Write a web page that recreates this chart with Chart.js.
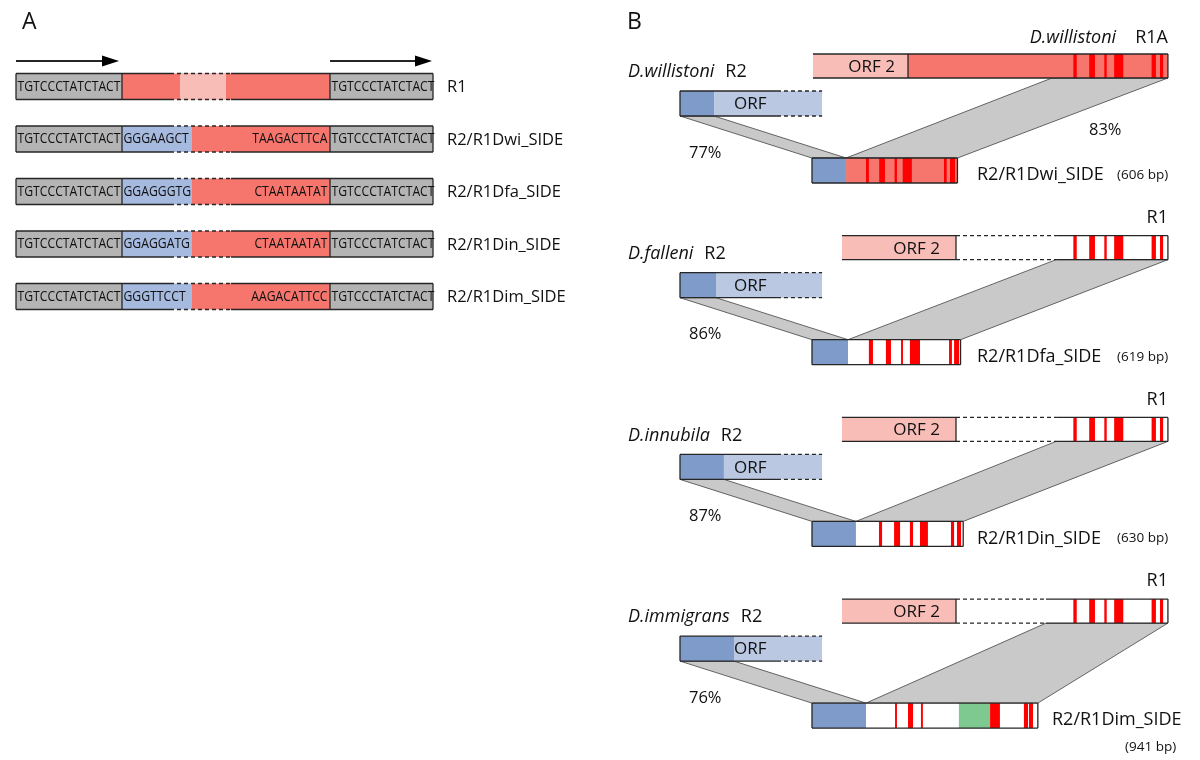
<!DOCTYPE html>
<html lang="en">
<head>
<meta charset="UTF-8">
<title>R2/R1 SIDE elements</title>
<style>
  html, body { margin: 0; padding: 0; background: #fff; }
  #wrap { width: 1200px; height: 760px; }
</style>
</head>
<body>
<div id="wrap"><canvas id="fig" width="1200" height="760"></canvas></div>

<script src="https://cdn.jsdelivr.net/npm/chart.js@4.4.4/dist/chart.umd.min.js"></script>
<script>
// ---------- panel A : junction sequences ----------
const rowNamesA = ['R1', 'R2/R1Dwi_SIDE', 'R2/R1Dfa_SIDE', 'R2/R1Din_SIDE', 'R2/R1Dim_SIDE'];
const flankSeq = 'TGTCCCTATCTACT';
const r2JunctionSeq = ['', 'GGGAAGCT', 'GGAGGGTG', 'GGAGGATG', 'GGGTTCCT'];
const r1JunctionSeq = ['', 'TAAGACTTCA', 'CTAATAATAT', 'CTAATAATAT', 'AAGACATTCC'];

// ---------- panel B : SIDE elements (bp) ----------
const species = ['D.willistoni', 'D.falleni', 'D.innubila', 'D.immigrans'];
const r1Names = ['R1A', 'R1', 'R1', 'R1'];
const sideNames = ['R2/R1Dwi_SIDE', 'R2/R1Dfa_SIDE', 'R2/R1Din_SIDE', 'R2/R1Dim_SIDE'];
const sideLengthBp = [606, 619, 630, 941];
const sideR2PartBp = [142, 150, 183, 225];      // R2 derived 5' part
const r2Identity = [77, 86, 87, 76];
const r1Identity = [83, null, null, null];
// red blocks inside each SIDE, bp from the 5' end
const sideStripes = [
  [[225, 237], [280, 304], [344, 354], [378, 416], [550, 561], [575, 596]],
  [[237, 254], [308, 329], [371, 379], [408, 450], [571, 583], [592, 613]],
  [[279, 292], [342, 367], [408, 421], [450, 483], [579, 592], [604, 621]],
  [[346, 354], [400, 421], [454, 462], [742, 783], [883, 900], [904, 921]]
];
const dimGreenBp = [612, 742];
// red blocks of R1, bp counted back from its 3' end
const r1Stripes = [[-394, -380], [-328, -304], [-265, -255], [-224, -186], [-68, -50], [-33, -20]];

// ---------- layout ----------
const pxPerBp = 0.24;
const sideLeftPx = 812;
const rowA = { first: 86.5, pitch: 52.5, h: 26 };
const colA = { l0: 16, l1: 122, r0: 330, r1: 433, gap0: 170, gap1: 231, orf0: 180, orf1: 226, junction: 192 };
const grpB = { first: 158, pitch: 181.7 };
const r1End = 1483;                       // bp, R1 3' end
const r1aStart = 4, r1aOrfEnd = 400;
const orf2Start = 125, orf2End = 600;
const r1HomolStart = [1000, 1017, 1017, 975];
const r2Orf = { start: -550, dash: -146, end: 42 };

const col = {
  grey: '#b4b4b4', salmon: '#f6756c', pink: '#f9bdb8', blue: '#7e9bc9', blueLight: '#bac8e2',
  blueA: '#a6b9de', red: '#ff0000', green: '#7ec98f', band: '#c9c9c9', line: '#262626'
};
const FONT = '"Open Sans", "Noto Sans", sans-serif';

const drawDiagram = {
  id: 'drawDiagram',
  afterDraw(chart) {
    const ctx = chart.ctx;
    const X = v => chart.scales.x.getPixelForValue(v);
    const B = v => chart.scales.bp.getPixelForValue(v);
    const Y = v => chart.scales.y.getPixelForValue(v);

    function box(x0, x1, y0, y1, fill) {
      ctx.fillStyle = fill;
      ctx.fillRect(x0, y0, x1 - x0, y1 - y0);
    }
    function seg(x0, y0, x1, y1, dashed, w) {
      ctx.save();
      ctx.strokeStyle = col.line;
      ctx.lineWidth = w || 1.3;
      ctx.setLineDash(dashed ? [4, 3] : []);
      ctx.beginPath();
      ctx.moveTo(x0, y0);
      ctx.lineTo(x1, y1);
      ctx.stroke();
      ctx.restore();
    }
    function frame(x0, x1, y0, y1) {
      seg(x0, y0, x1, y0); seg(x0, y1, x1, y1);
      seg(x0, y0, x0, y1); seg(x1, y0, x1, y1);
    }
    function text(str, x, y, size, opts) {
      opts = opts || {};
      ctx.save();
      ctx.fillStyle = '#111';
      ctx.font = (opts.italic ? 'italic ' : '') + size + 'px ' + FONT;
      ctx.textAlign = opts.align || 'left';
      ctx.textBaseline = 'middle';
      ctx.fillText(str, x, y);
      const w = ctx.measureText(str).width;
      ctx.restore();
      return w;
    }
    function narrowText(str, x, y, squeeze, align) {
      ctx.save();
      ctx.font = '14px ' + FONT;
      ctx.fillStyle = '#111';
      ctx.textBaseline = 'middle';
      ctx.textAlign = align;
      ctx.translate(x, y);
      ctx.scale(squeeze, 1);
      ctx.fillText(str, 0, 0);
      ctx.restore();
    }
    function arrow(x0, x1, y) {
      seg(x0, y, x1 - 10, y, false, 2);
      ctx.fillStyle = '#000';
      ctx.beginPath();
      ctx.moveTo(x1, y);
      ctx.lineTo(x1 - 17, y - 5.5);
      ctx.lineTo(x1 - 17, y + 5.5);
      ctx.closePath();
      ctx.fill();
    }
    function band(pts) {
      ctx.save();
      ctx.fillStyle = col.band;
      ctx.strokeStyle = '#555';
      ctx.lineWidth = 0.9;
      ctx.beginPath();
      pts.forEach((p, i) => i ? ctx.lineTo(p[0], p[1]) : ctx.moveTo(p[0], p[1]));
      ctx.closePath();
      ctx.fill();
      ctx.stroke();
      ctx.restore();
    }

    // ----- panel A -----
    text('A', X(22), Y(22), 23);
    arrow(X(colA.l0), X(colA.l1 - 3), Y(61));
    arrow(X(colA.r0), X(colA.r1 - 1), Y(61));

    ctx.save();
    ctx.font = '14px ' + FONT;
    const squeeze = (X(colA.l1) - X(colA.l0) - 3) / ctx.measureText(flankSeq).width;
    ctx.restore();

    rowNamesA.forEach((name, i) => {
      const yc = Y(rowA.first + i * rowA.pitch);
      const t = yc - rowA.h / 2, b = yc + rowA.h / 2;
      box(X(colA.l0), X(colA.l1), t, b, col.grey);
      box(X(colA.r0), X(colA.r1), t, b, col.grey);
      if (i === 0) {
        box(X(colA.l1), X(colA.r0), t, b, col.salmon);
        box(X(colA.orf0), X(colA.orf1), t, b, col.pink);
      } else {
        box(X(colA.l1), X(colA.junction), t, b, col.blueA);
        box(X(colA.junction), X(colA.r0), t, b, col.salmon);
      }
      frame(X(colA.l0), X(colA.l1), t, b);
      frame(X(colA.r0), X(colA.r1), t, b);
      [t, b].forEach(yy => {
        seg(X(colA.l1), yy, X(colA.gap0), yy);
        seg(X(colA.gap0), yy, X(colA.gap1), yy, true);
        seg(X(colA.gap1), yy, X(colA.r0), yy);
      });
      narrowText(flankSeq, X(colA.l0) + 1.5, yc + 0.5, squeeze, 'left');
      narrowText(flankSeq, X(colA.r0) + 1.5, yc + 0.5, squeeze, 'left');
      if (i > 0) {
        narrowText(r2JunctionSeq[i], X(colA.l1) + 1.5, yc + 0.5, squeeze, 'left');
        narrowText(r1JunctionSeq[i], X(colA.r0) - 2.5, yc + 0.5, squeeze, 'right');
      }
      text(name, X(447), yc + 1, 16.5);
    });

    // ----- panel B -----
    text('B', X(627), Y(22), 23);

    species.forEach((sp, g) => {
      const s = grpB.first + g * grpB.pitch;
      const sT = Y(s), sB = Y(s + 25);
      const rT = Y(s - 104), rB = Y(s - 80);
      const oT = Y(s - 67), oB = Y(s - 42);
      const sideEnd = B(sideLengthBp[g]);
      const blueEnd = B(sideR2PartBp[g]);
      const darkEnd = B(r2Orf.start + sideR2PartBp[g]);

      // homology bands
      band([[B(r2Orf.start), oB], [darkEnd, oB], [blueEnd, sT], [B(0), sT]]);
      band([[B(r1HomolStart[g]), rB], [B(r1End), rB], [sideEnd, sT], [blueEnd, sT]]);

      // R2 ORF
      box(B(r2Orf.start), darkEnd, oT, oB, col.blue);
      box(darkEnd, B(r2Orf.end), oT, oB, col.blueLight);
      [oT, oB].forEach(yy => {
        seg(B(r2Orf.start), yy, B(r2Orf.dash), yy);
        seg(B(r2Orf.dash), yy, B(r2Orf.end), yy, true);
      });
      seg(B(r2Orf.start), oT, B(r2Orf.start), oB);
      text('ORF', X(734), (oT + oB) / 2 + 1, 17);

      // R1 element
      if (g === 0) {
        box(B(r1aStart), B(r1aOrfEnd), rT, rB, col.pink);
        box(B(r1aOrfEnd), B(r1End), rT, rB, col.salmon);
        r1Stripes.forEach(st => box(B(r1End + st[0]), B(r1End + st[1]), rT, rB, col.red));
        seg(B(r1aStart), rT, B(r1End), rT);
        seg(B(r1aStart), rB, B(r1End), rB);
        seg(B(r1aOrfEnd), rT, B(r1aOrfEnd), rB);
        seg(B(r1End), rT, B(r1End), rB);
        text('ORF 2', B(r1aOrfEnd) - 13, (rT + rB) / 2 + 1, 17, { align: 'right' });
      } else {
        box(B(orf2Start), B(orf2End), rT, rB, col.pink);
        box(B(r1HomolStart[g]), B(r1End), rT, rB, '#fff');
        r1Stripes.forEach(st => box(B(r1End + st[0]), B(r1End + st[1]), rT, rB, col.red));
        [rT, rB].forEach(yy => {
          seg(B(orf2Start), yy, B(orf2End), yy);
          seg(B(orf2End), yy, B(r1HomolStart[g]), yy, true);
          seg(B(r1HomolStart[g]), yy, B(r1End), yy);
        });
        seg(B(orf2End), rT, B(orf2End), rB);
        seg(B(r1End), rT, B(r1End), rB);
        text('ORF 2', B(orf2End) - 16, (rT + rB) / 2 + 1, 17, { align: 'right' });
      }

      // SIDE element
      box(B(0), sideEnd, sT, sB, '#fff');
      if (g === 0) box(blueEnd, sideEnd, sT, sB, col.salmon);
      box(B(0), blueEnd, sT, sB, col.blue);
      if (g === 3) box(B(dimGreenBp[0]), B(dimGreenBp[1]), sT, sB, col.green);
      sideStripes[g].forEach(st => box(B(st[0]), B(st[1]), sT, sB, col.red));
      frame(B(0), sideEnd, sT, sB);

      // labels
      const wSp = text(sp, X(628), Y(s - 86), 18, { italic: true });
      text('R2', X(628) + wSp + 11, Y(s - 86), 18);
      if (g === 0) {
        const wR = text(r1Names[g], B(r1End), Y(s - 120), 18, { align: 'right' });
        text(sp, B(r1End) - wR - 19, Y(s - 120), 18, { italic: true, align: 'right' });
      } else {
        text(r1Names[g], B(r1End), Y(s - 122), 18, { align: 'right' });
      }
      text(r2Identity[g] + '%', X(689), Y(s - 5), 16.5);
      if (r1Identity[g] !== null) text(r1Identity[g] + '%', X(1089), Y(s - 28), 16.5);

      const bpLabel = '(' + sideLengthBp[g] + ' bp)';
      if (g < 3) {
        text(sideNames[g], X(977), Y(s + 17), 18);
        text(bpLabel, X(1117), Y(s + 17), 13.5);
      } else {
        text(sideNames[g], X(1052), Y(s + 17), 18);
        text(bpLabel, X(1125), Y(s + 44), 13.5);
      }
    });
  }
};

new Chart(document.getElementById('fig'), {
  type: 'scatter',
  data: { datasets: [] },
  options: {
    responsive: false,
    devicePixelRatio: 1,
    animation: false,
    events: [],
    layout: { padding: 0 },
    plugins: { legend: { display: false }, tooltip: { enabled: false } },
    scales: {
      x: { type: 'linear', min: 0, max: 1200, display: false },
      bp: { type: 'linear', axis: 'x', position: 'bottom',
            min: -sideLeftPx / pxPerBp, max: (1200 - sideLeftPx) / pxPerBp, display: false },
      y: { type: 'linear', min: 0, max: 760, reverse: true, display: false }
    }
  },
  plugins: [drawDiagram]
});
</script>
</body>
</html>
